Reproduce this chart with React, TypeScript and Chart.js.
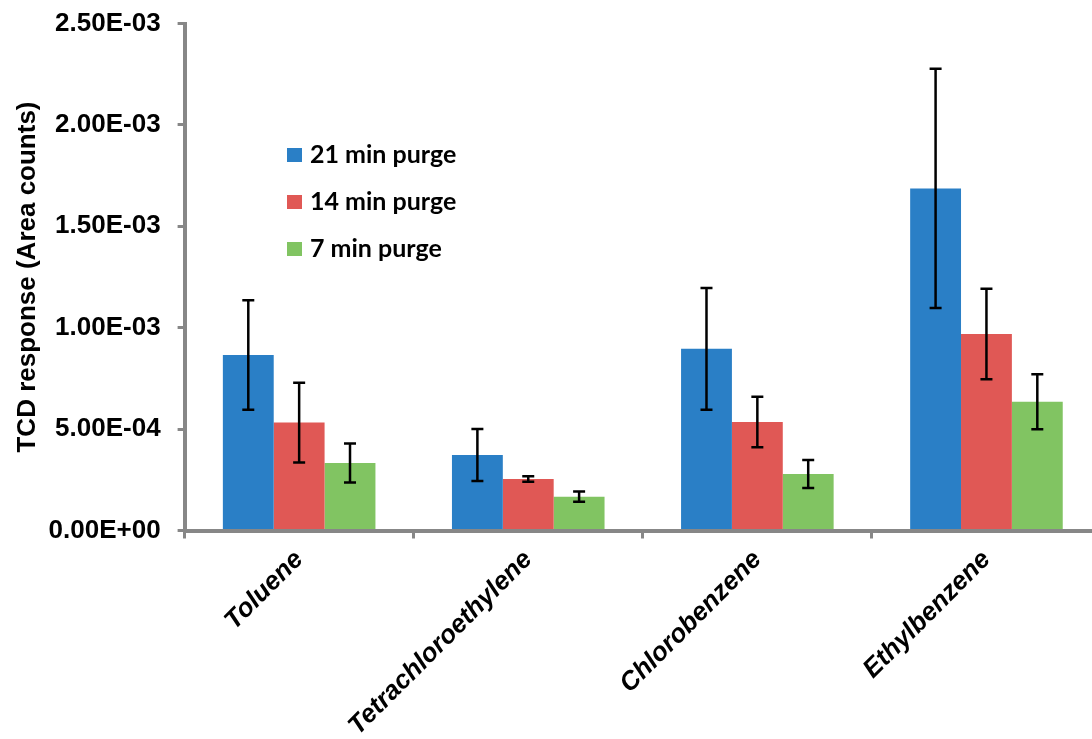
import React, { useEffect, useRef } from "react";
import { Chart, registerables } from "chart.js";

Chart.register(...registerables);

const categories = ["Toluene", "Tetrachloroethylene", "Chlorobenzene", "Ethylbenzene"];
const seriesNames = ["21 min purge", "14 min purge", "7 min purge"];
const purge21 = [8.65e-4, 3.72e-4, 8.96e-4, 1.687e-3];
const purge14 = [5.32e-4, 2.54e-4, 5.35e-4, 9.69e-4];
const purge7 = [3.33e-4, 1.67e-4, 2.79e-4, 6.35e-4];
const err21 = [2.7e-4, 1.28e-4, 3.0e-4, 5.9e-4];
const err14 = [1.97e-4, 1.3e-5, 1.25e-4, 2.23e-4];
const err7 = [0.96e-4, 2.5e-5, 0.69e-4, 1.36e-4];
const yMin = 0;
const yMax = 2.5e-3;
const yStep = 5e-4;
const yTitle = "TCD response (Area counts)";

const colors = ["#2a7fc6", "#e05855", "#81c462"];
const FONT = "'Liberation Sans', Arial, sans-serif";
const AXIS_GRAY = "#878787";

function fmtExp(v: number): string {
  const s = v.toExponential(2).toUpperCase();
  const [m, e] = s.split("E");
  const sign = e.startsWith("-") ? "-" : "+";
  const digits = e.replace(/[+-]/, "").padStart(2, "0");
  return `${m}E${sign}${digits}`;
}

const errorBarPlugin = {
  id: "errorBars",
  afterDatasetsDraw(chart: any) {
    const ctx = chart.ctx;
    const yScale = chart.scales.y;
    ctx.save();
    ctx.strokeStyle = "#000";
    ctx.lineWidth = 2.5;
    chart.data.datasets.forEach((ds: any, i: number) => {
      const meta = chart.getDatasetMeta(i);
      meta.data.forEach((bar: any, j: number) => {
        const v = ds.data[j];
        const e = ds.errors[j];
        const yt = yScale.getPixelForValue(v + e);
        const yb = yScale.getPixelForValue(v - e);
        const x = bar.x;
        const cap = 6;
        ctx.beginPath();
        ctx.moveTo(x, yt);
        ctx.lineTo(x, yb);
        ctx.moveTo(x - cap, yt);
        ctx.lineTo(x + cap, yt);
        ctx.moveTo(x - cap, yb);
        ctx.lineTo(x + cap, yb);
        ctx.stroke();
      });
    });
    ctx.restore();
  },
};

const legendPlugin = {
  id: "customLegend",
  afterDraw(chart: any) {
    const ctx = chart.ctx;
    ctx.save();
    ctx.font = "bold 25px Lato, 'Open Sans', sans-serif";
    ctx.textBaseline = "middle";
    ctx.textAlign = "left";
    chart.data.datasets.forEach((ds: any, i: number) => {
      const cy = 155 + i * 47;
      ctx.fillStyle = ds.backgroundColor;
      ctx.fillRect(287, cy - 7, 15, 14);
      ctx.fillStyle = "#000";
      ctx.fillText(ds.label, 310, cy);
    });
    ctx.restore();
  },
};

export default function App() {
  const ref = useRef<HTMLCanvasElement | null>(null);

  useEffect(() => {
    if (!ref.current) return;
    const values = [purge21, purge14, purge7];
    const errors = [err21, err14, err7];
    const chart = new Chart(ref.current, {
      type: "bar",
      data: {
        labels: categories,
        datasets: seriesNames.map((name, i) => ({
          label: name,
          data: values[i],
          errors: errors[i],
          backgroundColor: colors[i],
          borderWidth: 0,
          categoryPercentage: 0.666,
          barPercentage: 1.0,
        })) as any,
      },
      options: {
        animation: false,
        responsive: true,
        maintainAspectRatio: false,
        layout: { padding: { top: 23.5, left: 0, right: 0, bottom: 0 } },
        plugins: {
          legend: { display: false },
          tooltip: { enabled: false },
        },
        scales: {
          x: {
            grid: {
              display: true,
              offset: true,
              drawOnChartArea: false,
              drawTicks: true,
              tickLength: 8,
              color: AXIS_GRAY,
              lineWidth: 3,
            },
            border: { display: true, color: AXIS_GRAY, width: 4 },
            ticks: {
              minRotation: 45,
              maxRotation: 45,
              padding: 6,
              color: "#000",
              font: { family: FONT, size: 26, weight: "bold", style: "italic" },
            },
            afterFit: (scale: any) => {
              scale.height = 208.5;
              scale.paddingLeft = 0;
              scale.paddingRight = 0;
            },
          },
          y: {
            min: yMin,
            max: yMax,
            grid: {
              display: true,
              drawOnChartArea: false,
              drawTicks: true,
              tickLength: 7,
              color: AXIS_GRAY,
              lineWidth: 3,
            },
            border: { display: true, color: AXIS_GRAY, width: 4 },
            ticks: {
              stepSize: yStep,
              padding: 17,
              color: "#000",
              font: { family: FONT, size: 26, weight: "bold" },
              callback: (v: any) => fmtExp(Number(v)),
            },
            title: {
              display: true,
              text: yTitle,
              color: "#000",
              font: { family: FONT, size: 26, weight: "bold" },
              padding: { top: 12, bottom: 0 },
            },
            afterFit: (scale: any) => {
              scale.width = 184.6;
              scale.paddingTop = 0;
              scale.paddingBottom = 0;
            },
          },
        },
      } as any,
      plugins: [errorBarPlugin, legendPlugin],
    });
    return () => chart.destroy();
  }, []);

  return (
    <div
      style={{
        position: "fixed",
        left: 0,
        top: 0,
        width: 1092,
        height: 739,
        overflow: "hidden",
        background: "#fff",
      }}
    >
      <div style={{ position: "relative", width: 1101, height: 739 }}>
        <canvas ref={ref} />
      </div>
    </div>
  );
}
